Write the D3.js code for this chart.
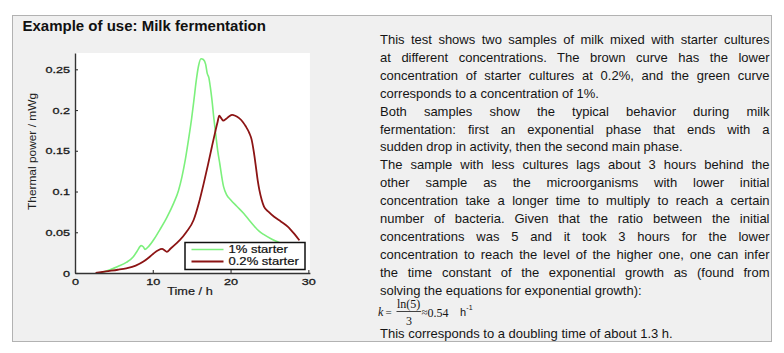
<!DOCTYPE html>
<html><head><meta charset="utf-8">
<script src="https://cdn.jsdelivr.net/npm/d3@7"></script>
<style>html,body{margin:0;padding:0;background:#fff;} svg{display:block;}</style>
</head><body>
<svg id="c" width="784" height="353"></svg>
<script>
// ---------------- data ----------------
const title = "Example of use: Milk fermentation";
const xLabel = "Time / h";
const yLabel = "Thermal power / mWg";
const seriesNames = ["1% starter", "0.2% starter"];
const xTicks = [0, 10, 20, 30];
const xTickLabels = ["0", "10", "20", "30"];
const yTicks = [0, 0.05, 0.1, 0.15, 0.2, 0.25];
const yTickLabels = ["0", "0.05", "0.1", "0.15", "0.2", "0.25"];

// 1% starter (green)
const greenT = [3.2, 4.5, 5.5, 6.6, 7.5, 8.0, 8.5, 8.8, 9.0, 9.5, 10.2, 10.9, 11.8, 12.7, 13.3, 13.75, 14.2, 14.6, 15.0, 15.3, 15.6, 15.9, 16.2, 16.5, 16.8, 17.0, 17.2, 17.4, 17.6, 17.85, 18.07, 18.35, 18.6, 19.1, 19.5, 20.0, 20.8, 21.7, 22.3, 23.0, 23.7, 24.3, 25.2, 26.1, 27.0, 28.0, 29.0];
const greenV = [0, 0.004, 0.008, 0.013, 0.02, 0.027, 0.0336, 0.032, 0.029, 0.033, 0.042, 0.053, 0.068, 0.086, 0.101, 0.118, 0.14, 0.164, 0.19, 0.213, 0.237, 0.255, 0.263, 0.262, 0.256, 0.245, 0.24, 0.228, 0.213, 0.19, 0.172, 0.15, 0.135, 0.106, 0.096, 0.09, 0.082, 0.073, 0.066, 0.058, 0.051, 0.047, 0.042, 0.038, 0.034, 0.030, 0.027];

// 0.2% starter (brown)
const brownT = [2.65, 4.0, 5.5, 6.6, 7.8, 8.8, 9.5, 10.1, 10.7, 11.2, 11.5, 11.8, 12.3, 13.0, 13.5, 14.3, 15.25, 15.9, 16.55, 17.1, 17.6, 18.0, 18.3, 18.55, 18.8, 19.07, 19.4, 19.8, 20.2, 20.6, 21.1, 21.6, 21.95, 22.4, 22.7, 23.0, 23.25, 23.5, 23.7, 24.0, 24.3, 24.9, 25.6, 26.5, 27.35, 28.2, 28.85];
const brownV = [0, 0.002, 0.004, 0.0058, 0.009, 0.014, 0.019, 0.024, 0.028, 0.0295, 0.028, 0.026, 0.03, 0.036, 0.0406, 0.05, 0.065, 0.085, 0.11, 0.133, 0.155, 0.172, 0.184, 0.193, 0.19, 0.187, 0.189, 0.192, 0.194, 0.193, 0.19, 0.185, 0.18, 0.172, 0.164, 0.148, 0.131, 0.113, 0.102, 0.09, 0.0815, 0.075, 0.069, 0.063, 0.057, 0.048, 0.04];

const bodyLines = [
  "This test shows two samples of milk mixed with starter cultures",
  "at different concentrations. The brown curve has the lower",
  "concentration of starter cultures at 0.2%, and the green curve",
  "corresponds to a concentration of 1%.",
  "Both samples show the typical behavior during milk",
  "fermentation: first an exponential phase that ends with a",
  "sudden drop in activity, then the second main phase.",
  "The sample with less cultures lags about 3 hours behind the",
  "other sample as the microorganisms with lower initial",
  "concentration take a longer time to multiply to reach a certain",
  "number of bacteria. Given that the ratio between the initial",
  "concentrations was 5 and it took 3 hours for the lower",
  "concentration to reach the level of the higher one, one can infer",
  "the time constant of the exponential growth as (found from",
  "solving the equations for exponential growth):"
];
const paragraphEnds = [3, 6, 14];
const finalLine = "This corresponds to a doubling time of about 1.3 h.";

// ---------------- drawing ----------------
const svg = d3.select("#c");
const SANS = "'Liberation Sans', Arial, Helvetica, sans-serif";
const SERIF = "'Liberation Serif', 'Times New Roman', serif";

function stretch(sel, f) {
  sel.each(function () {
    const w = this.getComputedTextLength();
    this.setAttribute("textLength", w * f);
    this.setAttribute("lengthAdjust", "spacingAndGlyphs");
  });
}

svg.append("rect").attr("width", 784).attr("height", 353).attr("fill", "#fff");
svg.append("rect").attr("x", 12.5).attr("y", 15.5).attr("width", 759).attr("height", 326)
  .attr("fill", "#f0f0f0").attr("stroke", "#b2b2b2").attr("stroke-width", 1);

svg.append("text").attr("x", 22.5).attr("y", 31).text(title)
  .attr("font-family", SANS).attr("font-weight", "bold").attr("font-size", 15).attr("fill", "#111");

// plot
const x = d3.scaleLinear().domain([0, 30.2]).range([75, 309.9]);
const y = d3.scaleLinear().domain([0, 0.27]).range([273, 53]);

svg.append("rect").attr("x", x(0)).attr("y", y(0.27))
  .attr("width", x(30.2) - x(0)).attr("height", y(0) - y(0.27)).attr("fill", "#fff");

const line = d3.line().x(d => x(d[0])).y(d => y(d[1])).curve(d3.curveMonotoneX);
const green = greenT.map((t, i) => [t, greenV[i]]);
const brown = brownT.map((t, i) => [t, brownV[i]]);

const plot = svg.append("g");
plot.append("path").datum(green).attr("d", line).attr("fill", "none")
  .attr("stroke", "#7cf07c").attr("stroke-width", 1.6).attr("stroke-linejoin", "round");
plot.append("path").datum(brown).attr("d", line).attr("fill", "none")
  .attr("stroke", "#8c1414").attr("stroke-width", 1.8).attr("stroke-linejoin", "round");

// axes
const xAxis = svg.append("g").attr("transform", `translate(0,${y(0)})`)
  .call(d3.axisBottom(x).tickValues(xTicks).tickFormat((d, i) => xTickLabels[i])
    .tickSizeInner(-3).tickSizeOuter(0).tickPadding(5));
const yAxis = svg.append("g").attr("transform", `translate(${x(0)},0)`)
  .call(d3.axisLeft(y).tickValues(yTicks).tickFormat((d, i) => yTickLabels[i])
    .tickSizeInner(-3).tickSizeOuter(0).tickPadding(5));
[xAxis, yAxis].forEach(g => {
  g.select(".domain").attr("stroke", "#333").attr("stroke-width", 1.4);
  g.selectAll(".tick line").attr("stroke", "#333").attr("stroke-width", 1.1);
  g.selectAll(".tick text").attr("font-family", SANS).attr("font-size", 9.5).attr("fill", "#1a1a1a")
    .attr("stroke", "#1a1a1a").attr("stroke-width", 0.3);
});
xAxis.selectAll(".tick text").attr("dy", "0.72em").attr("y", 5.5);
stretch(xAxis.selectAll(".tick text"), 1.33);
stretch(yAxis.selectAll(".tick text"), 1.33);

// axis labels
const xl = svg.append("text").attr("x", 190).attr("y", 295).attr("text-anchor", "middle")
  .attr("font-family", SANS).attr("font-size", 10.7).attr("fill", "#1a1a1a")
  .attr("stroke", "#1a1a1a").attr("stroke-width", 0.2).text(xLabel);
stretch(xl, 1.19);
const yl = svg.append("text").attr("transform", "translate(35.5,151.5) rotate(-90)")
  .attr("text-anchor", "middle").attr("font-family", SANS).attr("font-size", 10)
  .attr("fill", "#222").text(yLabel);
yl.attr("textLength", 117).attr("lengthAdjust", "spacingAndGlyphs");

// legend
const lg = svg.append("g");
lg.append("rect").attr("x", 185).attr("y", 242.5).attr("width", 120).attr("height", 27)
  .attr("fill", "#fff").attr("stroke", "#111").attr("stroke-width", 1.5);
const legColors = ["#7cf07c", "#8c1414"];
seriesNames.forEach((n, i) => {
  const yy = 249.5 + i * 12;
  lg.append("line").attr("x1", 191.5).attr("x2", 223.5).attr("y1", yy).attr("y2", yy)
    .attr("stroke", legColors[i]).attr("stroke-width", i ? 1.8 : 1.6);
  const t = lg.append("text").attr("x", 228.5).attr("y", yy + 3.8).attr("font-family", SANS)
    .attr("font-size", 10.7).attr("fill", "#111").attr("stroke", "#111").attr("stroke-width", 0.2).text(n);
  stretch(t, 1.22);
});

// body text
const left = 380, right = 769.5, base0 = 44, lh = 17.9;
const body = svg.append("g").attr("font-family", SANS).attr("font-size", 13).attr("fill", "#151515");
bodyLines.forEach((s, i) => {
  const t = body.append("text").attr("x", left).attr("y", base0 + i * lh).text(s);
  if (!paragraphEnds.includes(i)) {
    const w = t.node().getComputedTextLength();
    const n = (s.match(/ /g) || []).length;
    if (n > 0) t.attr("word-spacing", (right - left - w) / n);
  }
});
body.append("text").attr("x", left).attr("y", 338).text(finalLine);

// formula
const f = svg.append("g").attr("fill", "#151515");
f.append("text").attr("x", 378).attr("y", 316).attr("font-family", SERIF).attr("font-style", "italic")
  .attr("font-size", 12).text("k");
f.append("text").attr("x", 385.5).attr("y", 316).attr("font-family", SERIF).attr("font-size", 11).text("=");
f.append("text").attr("x", 397).attr("y", 308).attr("font-family", SERIF).attr("font-size", 12).text("ln(5)");
f.append("line").attr("x1", 396.5).attr("x2", 421).attr("y1", 311.5).attr("y2", 311.5)
  .attr("stroke", "#151515").attr("stroke-width", 0.8);
f.append("text").attr("x", 409).attr("y", 324.5).attr("text-anchor", "middle").attr("font-family", SERIF)
  .attr("font-size", 12).text("3");
f.append("text").attr("x", 421.5).attr("y", 316).attr("font-family", SERIF).attr("font-size", 11).text("≈");
f.append("text").attr("x", 427.5).attr("y", 316.5).attr("font-family", SERIF).attr("font-size", 12).text("0.54");
f.append("text").attr("x", 460).attr("y", 316).attr("font-family", SANS).attr("font-size", 11).text("h");
f.append("text").attr("x", 466.3).attr("y", 310).attr("font-family", SANS).attr("font-size", 7).text("-1");
</script>
</body></html>
